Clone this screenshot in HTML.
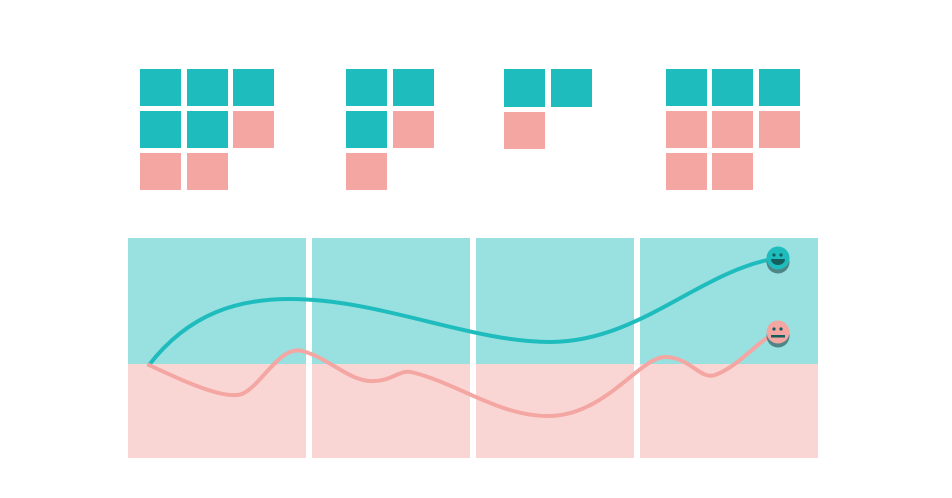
<!DOCTYPE html>
<html><head><style>body{margin:0;background:#fff}svg{display:block}</style></head>
<body>
<svg width="952" height="498" viewBox="0 0 952 498" xmlns="http://www.w3.org/2000/svg">
<g>
<rect x="140" y="69" width="41" height="37" fill="#1fbcbd"/><rect x="187" y="69" width="41" height="37" fill="#1fbcbd"/><rect x="233" y="69" width="41" height="37" fill="#1fbcbd"/>
<rect x="140" y="111" width="41" height="37" fill="#1fbcbd"/><rect x="187" y="111" width="41" height="37" fill="#1fbcbd"/><rect x="233" y="111" width="41" height="37" fill="#f4a6a2"/>
<rect x="140" y="153" width="41" height="37" fill="#f4a6a2"/><rect x="187" y="153" width="41" height="37" fill="#f4a6a2"/>
<rect x="346" y="69" width="41" height="37" fill="#1fbcbd"/><rect x="393" y="69" width="41" height="37" fill="#1fbcbd"/>
<rect x="346" y="111" width="41" height="37" fill="#1fbcbd"/><rect x="393" y="111" width="41" height="37" fill="#f4a6a2"/>
<rect x="346" y="153" width="41" height="37" fill="#f4a6a2"/>
<rect x="504" y="69" width="41" height="38" fill="#1fbcbd"/><rect x="551" y="69" width="41" height="38" fill="#1fbcbd"/>
<rect x="504" y="112" width="41" height="37" fill="#f4a6a2"/>
<rect x="666" y="69" width="41" height="37" fill="#1fbcbd"/><rect x="712" y="69" width="41" height="37" fill="#1fbcbd"/><rect x="759" y="69" width="41" height="37" fill="#1fbcbd"/>
<rect x="666" y="111" width="41" height="37" fill="#f4a6a2"/><rect x="712" y="111" width="41" height="37" fill="#f4a6a2"/><rect x="759" y="111" width="41" height="37" fill="#f4a6a2"/>
<rect x="666" y="153" width="41" height="37" fill="#f4a6a2"/><rect x="712" y="153" width="41" height="37" fill="#f4a6a2"/>
</g>
<g>
<rect x="128" y="238" width="178" height="126" fill="#99e0e0"/><rect x="312" y="238" width="158" height="126" fill="#99e0e0"/><rect x="476" y="238" width="158" height="126" fill="#99e0e0"/><rect x="640" y="238" width="178" height="126" fill="#99e0e0"/>
<rect x="128" y="364" width="178" height="94" fill="#f9d6d4"/><rect x="312" y="364" width="158" height="94" fill="#f9d6d4"/><rect x="476" y="364" width="158" height="94" fill="#f9d6d4"/><rect x="640" y="364" width="178" height="94" fill="#f9d6d4"/>
</g>
<path d="M149,365 C190,312 240,299 290,299 C380,299 470,342 550,342 C640,342 700,270 778,258" fill="none" stroke="#1fbcbd" stroke-width="4" stroke-linecap="round"/>
<path d="M149,365 C185,382 225,400 242,394 C262,385 280,345 302,351 C330,358 350,383 375,381 C395,380 400,368 415,373 C460,385 500,416 548,416 C605,416 640,357 665,357 C690,357 700,380 715,375 C740,366 760,338 778,332" fill="none" stroke="#f4a6a2" stroke-width="4" stroke-linecap="round"/>
<circle cx="778" cy="262" r="11.5" fill="#4f8585"/>
<circle cx="778" cy="258" r="11.5" fill="#1fbcbd"/>
<circle cx="774" cy="255" r="1.6" fill="#155e5e"/><circle cx="781" cy="255" r="1.6" fill="#155e5e"/>
<path d="M771,259 H785 A7,6 0 0 1 771,259 Z" fill="#155e5e"/>
<circle cx="778" cy="336" r="11.5" fill="#4f8585"/>
<circle cx="778" cy="332" r="11.5" fill="#f4a6a2"/>
<circle cx="774" cy="329" r="1.6" fill="#155e5e"/><circle cx="781" cy="329" r="1.6" fill="#155e5e"/>
<rect x="771" y="335" width="14" height="2.5" fill="#155e5e"/>
</svg>
</body></html>
